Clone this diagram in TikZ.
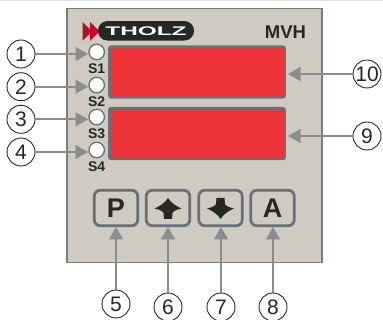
\documentclass[tikz,border=0pt]{standalone}
\usepackage{fontspec}
\setmainfont{Liberation Sans}
\usetikzlibrary{arrows.meta}
\definecolor{panel}{HTML}{CFCBC1}
\definecolor{edge}{HTML}{7E7C78}
\definecolor{bezel}{HTML}{66717A}
\definecolor{disp}{HTML}{EE3338}
\definecolor{arr}{HTML}{8A8C8E}
\definecolor{ink}{HTML}{262826}
\definecolor{logored}{HTML}{BE0A2D}
\tikzset{x=1pt,y=-1pt,
 callout/.style={circle,draw=ink,line width=0.9pt,fill=white,minimum size=28pt,inner sep=0pt,font=\fontsize{21}{21}\selectfont,text=ink},
 led/.style={circle,draw=bezel,line width=1.3pt,fill=white,minimum size=15.5pt,inner sep=0pt},
 ledlabel/.style={font=\bfseries\fontsize{14}{14}\selectfont,text=ink,inner sep=0pt},
 display/.style={draw=bezel,line width=2.4pt,fill=disp,rounded corners=2pt,minimum width=175.5pt,minimum height=51pt,inner sep=0pt},
 keybox/.style={draw=bezel,line width=2.8pt,fill=panel,rounded corners=6pt,minimum width=43.5pt,minimum height=35.5pt,inner sep=0pt,text=ink,font=\bfseries\fontsize{27}{27}\selectfont},
 pointer/.style={draw=arr,line width=1.7pt,-{Triangle[length=12.5pt,width=14pt,color=arr]}}
}
\begin{document}
\begin{tikzpicture}
\useasboundingbox (0,0) rectangle (383,320);
\fill[white] (0,0) rectangle (383,320);
\fill[black!12] (0,0) rectangle (383,1);
\draw[edge,fill=panel,line width=1.1pt] (67,8.5) rectangle (322,262.5);
% logo
\fill[logored] (82.5,22) -- (92,31.5) -- (82.5,41) -- cycle;
\fill[logored] (90,22) -- (99.5,31.5) -- (90,41) -- cycle;
\node[name=logo,fill=ink,rounded corners=9.5pt,minimum width=96pt,minimum height=19.5pt,inner sep=0pt,text=white] at (146,30.8) {\bfseries\fontsize{12.5}{12.5}\selectfont\scalebox{1.95}[1]{THOLZ}};
\node[name=model,font=\bfseries\fontsize{18.5}{18.5}\selectfont,text=ink,inner sep=0pt] at (285.5,32) {MVH};
% displays
\node[display] (d1) at (197,72) {};
\node[display] (d2) at (197,133.5) {};
% leds
\node[led] (l1) at (96.7,52) {};
\node[led] (l2) at (96.7,85) {};
\node[led] (l3) at (96.7,117) {};
\node[led] (l4) at (96.7,150) {};
\node[ledlabel] (s1) at (96.7,68.7) {S1};
\node[ledlabel] (s2) at (96.7,101.7) {S2};
\node[ledlabel] (s3) at (96.7,133.5) {S3};
\node[ledlabel] (s4) at (96.7,166.7) {S4};
% keys
\node[keybox] (kp) at (116,208) {P};
\node[keybox] (ku) at (168,208) {};
\node[keybox] (kd) at (220.5,208) {};
\node[keybox] (ka) at (272.5,208) {A};
\fill[ink] (168,198) .. controls (171,203) and (176,206) .. (181.5,208.5) .. controls (177,209.5) and (173,211) .. (172.5,213) -- (172,219) -- (164,219) -- (163.5,213) .. controls (163,211) and (159,209.5) .. (154.5,208.5) .. controls (160,206) and (165,203) .. cycle;
\fill[ink] (220.5,219) .. controls (223.5,214) and (228.5,211) .. (234,208.5) .. controls (229.5,207.5) and (225.5,206) .. (225,204) -- (224.5,198) -- (216.5,198) -- (216,204) .. controls (215.5,206) and (211.5,207.5) .. (207,208.5) .. controls (212.5,211) and (217.5,214) .. cycle;
% callouts
\node[callout] (c1) at (21,54) {1};
\node[callout] (c2) at (21,86.7) {2};
\node[callout] (c3) at (21,119.3) {3};
\node[callout] (c4) at (21,152) {4};
\node[callout] (c5) at (116,304) {5};
\node[callout] (c6) at (168,307) {6};
\node[callout] (c7) at (221,307) {7};
\node[callout] (c8) at (273,307) {8};
\node[callout] (c9) at (367,136) {9};
\node[callout] (c10) at (367,74) {10};
\coordinate (t1) at (88,54);
\coordinate (t2) at (88,86.7);
\coordinate (t3) at (88,119.3);
\coordinate (t4) at (88,152);
\coordinate (t5) at (116,227);
\coordinate (t6) at (168,227);
\coordinate (t7) at (221,227);
\coordinate (t8) at (273,227);
\coordinate (t9) at (288,136);
\coordinate (t10) at (288,74);
\foreach \n in {1,...,10} {\draw[pointer] (c\n) -- (t\n);}
\end{tikzpicture}
\end{document}
